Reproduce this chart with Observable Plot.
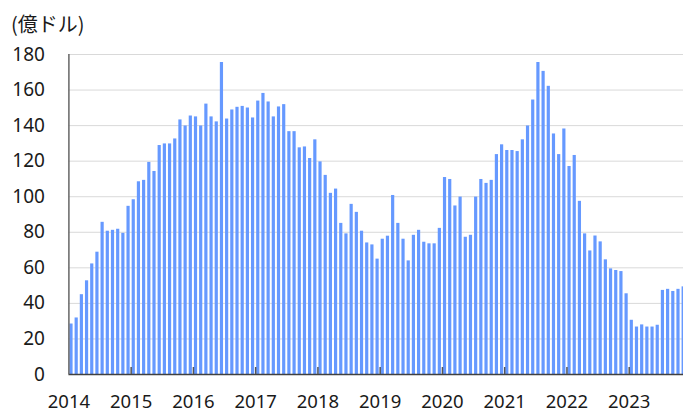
<!DOCTYPE html>
<html>
<head>
<meta charset="utf-8">
<script src="https://cdn.jsdelivr.net/npm/d3@7"></script>
<script src="https://cdn.jsdelivr.net/npm/@observablehq/plot@0.6"></script>
<style>
  html, body { margin: 0; padding: 0; background: #fff; overflow: hidden; width: 683px; height: 414px; }
  #head { position: relative; height: 40px; }
  #unit { position: absolute; left: 11px; top: 14px; font: 20px "Noto Sans CJK JP", "Noto Sans", sans-serif; color: #1a1a1a; line-height: 1; }
  #chart svg { display: block; }
</style>
</head>
<body>
<div id="head"><span id="unit">(億ドル)</span></div>
<div id="chart"></div>
<script>
const yearLabels = ["2014","2015","2016","2017","2018","2019","2020","2021","2022","2023"];
const v2014 = [28.4, 31.8, 44.9, 52.7, 62.2, 68.8, 85.6, 80.6, 81.1, 81.7, 79.4, 94.6];
const v2015 = [98.3, 108.4, 109.2, 119.3, 114.2, 128.8, 129.7, 129.7, 132.5, 143.2, 139.8, 145.4];
const v2016 = [144.9, 139.8, 152.1, 144.9, 142.1, 175.5, 143.7, 148.8, 150.3, 150.8, 149.9, 144.3];
const v2017 = [153.8, 158.1, 153.3, 144.9, 150.5, 151.8, 136.6, 136.6, 127.5, 128.0, 121.5, 132.0];
const v2018 = [119.6, 112.0, 101.9, 104.3, 85.0, 79.1, 95.7, 91.2, 80.6, 74.0, 72.9, 64.9];
const v2019 = [76.1, 77.8, 100.7, 85.0, 76.1, 63.9, 78.3, 81.1, 74.4, 73.5, 73.5, 82.2];
const v2020 = [110.8, 109.7, 94.8, 99.8, 77.2, 78.3, 99.8, 109.7, 107.5, 109.2, 123.7, 129.2];
const v2021 = [126.0, 126.0, 125.4, 132.0, 139.8, 154.4, 175.5, 170.5, 162.1, 135.3, 123.7, 138.1];
const v2022 = [117.0, 123.2, 97.4, 79.1, 69.5, 77.9, 74.6, 64.5, 59.4, 58.5, 57.9, 45.4];
const v2023 = [30.5, 26.7, 27.9, 26.7, 26.7, 27.7, 47.3, 47.9, 46.7, 47.9, 49.3];
const yTicks = [0, 20, 40, 60, 80, 100, 120, 140, 160, 180];

const series = [v2014, v2015, v2016, v2017, v2018, v2019, v2020, v2021, v2022, v2023];
const data = [];
series.forEach((arr, yi) => arr.forEach((v, m) => data.push({i: yi * 12 + m, v})));
const yearStarts = yearLabels.map((_, k) => k * 12);

const font = '"Noto Sans", "Open Sans", sans-serif';
const chart = Plot.plot({
  width: 683,
  height: 374,
  marginLeft: 68.4,
  marginRight: 0,
  marginTop: 14,
  marginBottom: 40,
  style: {fontFamily: font, fontSize: "19px", color: "#1a1a1a", background: "#fff"},
  x: {type: "linear", domain: [0, 120], range: [68.4, 68.4 + 120 * 5.188]},
  y: {domain: [0, 180]},
  marks: [
    Plot.gridY(yTicks.slice(1), {stroke: "#d9d9d9", strokeOpacity: 1, strokeWidth: 1}),
    Plot.rectY(data, {x1: "i", x2: d => d.i + 1, y: "v", fill: "#6699ff", insetLeft: 1, insetRight: 1}),
    Plot.ruleY([0], {stroke: "#404040", strokeWidth: 1.5}),
    Plot.ruleX([0], {stroke: "#666", strokeWidth: 1.5}),
    Plot.ruleX(yearStarts.slice(1), {x: d => d, y1: 0, y2: 0, insetBottom: 7, stroke: "#555", strokeWidth: 1.5}),
    Plot.axisY({ticks: yTicks, tickSize: 0, tickPadding: 24, label: null, fontSize: 19}),
    Plot.axisX({ticks: yearStarts, tickSize: 0, tickPadding: 20, label: null, fontSize: 18.5,
      tickFormat: d => yearLabels[d / 12]})
  ]
});
document.getElementById("chart").appendChild(chart);
</script>
</body>
</html>
